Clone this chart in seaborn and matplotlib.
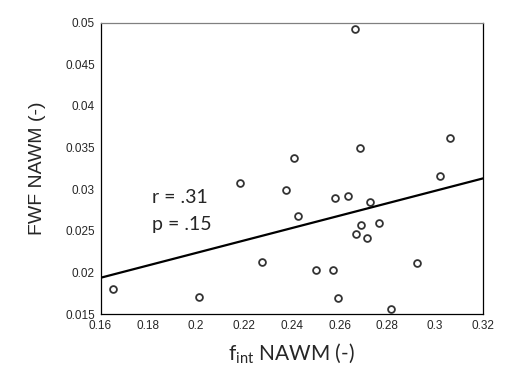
import matplotlib
matplotlib.use("Agg")
import matplotlib.pyplot as plt
import numpy as np
import pandas as pd
import seaborn as sns

# values
fint_nawm = [0.2666, 0.3061, 0.2687, 0.2411, 0.3022, 0.2184, 0.2376, 0.2581,
             0.2636, 0.2728, 0.2428, 0.2767, 0.2688, 0.2668, 0.2715, 0.2277,
             0.2924, 0.2500, 0.2574, 0.1654, 0.2010, 0.2595, 0.2815]
fwf_nawm = [0.0493, 0.0361, 0.0350, 0.0337, 0.0316, 0.0307, 0.0299, 0.0290,
            0.0292, 0.0285, 0.0268, 0.0259, 0.0257, 0.0246, 0.0242, 0.0212,
            0.0211, 0.0203, 0.0203, 0.0180, 0.0171, 0.0169, 0.0156]
x_ticks = [0.16, 0.18, 0.2, 0.22, 0.24, 0.26, 0.28, 0.3, 0.32]
x_tick_labels = ["0.16", "0.18", "0.2", "0.22", "0.24", "0.26", "0.28", "0.3", "0.32"]
y_ticks = [0.015, 0.02, 0.025, 0.03, 0.035, 0.04, 0.045, 0.05]
y_tick_labels = ["0.015", "0.02", "0.025", "0.03", "0.035", "0.04", "0.045", "0.05"]

df = pd.DataFrame({"fint": fint_nawm, "fwf": fwf_nawm})

sns.set_style("white")
plt.rcParams["font.family"] = ["Liberation Sans", "DejaVu Sans"]

fig = plt.figure(figsize=(5.29, 3.78), dpi=100)
ax = fig.add_axes([0.19, 0.169, 0.723, 0.771])

ax.set_xlim(0.16, 0.32)
ax.set_ylim(0.015, 0.05)
sns.regplot(data=df, x="fint", y="fwf", ax=ax, ci=None, truncate=False,
            scatter_kws=dict(s=24, facecolors="white", edgecolors="black", linewidths=1.3),
            line_kws=dict(color="black", lw=1.6))
ax.set_xlim(0.16, 0.32)
ax.set_ylim(0.015, 0.05)

ax.set_xticks(x_ticks)
ax.set_xticklabels(x_tick_labels)
ax.set_yticks(y_ticks)
ax.set_yticklabels(y_tick_labels)
ax.tick_params(direction="in", length=3, width=0.8, labelsize=8.5,
               labelcolor="#262626", color="#262626", pad=4)

for side in ["left", "bottom", "right"]:
    ax.spines[side].set_color("black")
    ax.spines[side].set_linewidth(0.9)
ax.spines["top"].set_color("#808080")
ax.spines["top"].set_linewidth(0.9)

ax.set_xlabel(r"f$_{\mathregular{int}}$ NAWM (-)", fontsize=15, family="Lato", labelpad=7)
ax.set_ylabel("FWF NAWM (-)", fontsize=14, labelpad=14)

ax.text(0.1815, 0.0290, "r = .31", fontsize=14, family="Lato", va="center")
ax.text(0.1815, 0.0258, "p = .15", fontsize=14, family="Lato", va="center")

fig.savefig("out.png", dpi=100)
